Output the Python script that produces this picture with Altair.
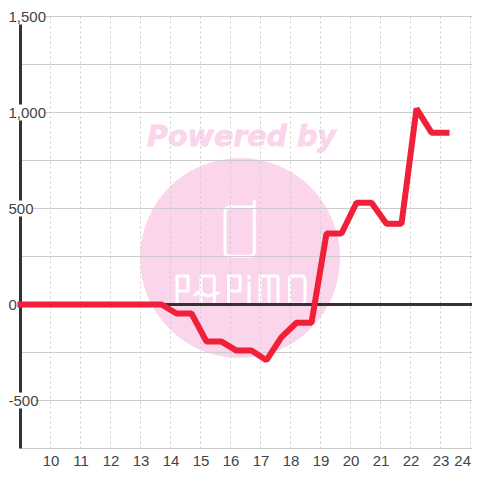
import altair as alt
import pandas as pd

hours = [9.0, 9.7, 10.2, 10.7, 11.2, 11.7, 12.2, 12.7, 13.2, 13.7, 14.2, 14.7, 15.2, 15.7, 16.2, 16.7,
         17.2, 17.7, 18.2, 18.7, 19.2, 19.7, 20.2, 20.7, 21.2, 21.7, 22.2, 22.7, 23.2]
values = [0, 0, 0, 0, 0, 0, 0, 0, 0, 0, -47, -47, -193, -193, -240, -240,
          -290, -170, -95, -95, 370, 370, 530, 530, 420, 420, 1020, 895, 895]
x_ticks = list(range(10, 25))
y_labels = [-500, 0, 500, 1000, 1500]
y_grid = [-750, -500, -250, 0, 250, 500, 750, 1000, 1250, 1500]
label_ends = [9.5, 8.9, 9.4, 9.82, 9.82]
DARK = "#333333"
TEXT = "#444444"
GRID = "#cccccc"
PINK = "#fbd5ec"
RED = "#ef2038"
FONT = "Liberation Sans"
X_MAX = 9 + 451.5 / 30

x_scale = alt.Scale(domain=[9, X_MAX], nice=False, zero=False)
y_scale = alt.Scale(domain=[-750, 1500], nice=False, zero=False)
x_axis = alt.Axis(values=x_ticks, title=None, grid=False, domain=False, ticks=False, labelFlush=5,
                  labelFont=FONT, labelFontSize=15, labelColor=TEXT, labelPadding=5, format="d")
y_axis = alt.Axis(values=y_labels, title=None, grid=False, domain=False, ticks=False, zindex=1,
                  labelFont=FONT, labelFontSize=15, labelColor=TEXT, labelAlign="left",
                  labelPadding=12.5, format=",d", labelExpr="replace(datum.label, '\u2212', '-')")

line_df = pd.DataFrame({"hour": hours, "value": values})
grid_y_df = pd.DataFrame({"v": y_grid, "a": [9] * len(y_grid), "b": [X_MAX] * len(y_grid)})
grid_x_df = pd.DataFrame({"h": x_ticks, "lo": [-750] * len(x_ticks), "hi": [1500] * len(x_ticks)})
gap_df = pd.DataFrame({"v": y_labels, "a": [8.6] * len(y_labels), "b": label_ends})
one = pd.DataFrame({"h": [9], "lo": [-750], "hi": [1500], "z": [0], "end": [X_MAX]})
dummy = pd.DataFrame({"k": [0]})

LOGO = ("M14.3 -57L14.3 -6Q14.3 -1.7 10 -1.7L-10 -1.7Q-15 -1.7 -15 -6L-15 -46Q-15 -51 -10 -51L14.3 -51"
        "M-63 46L-63 18L-52 18L-52 33L-63 33"
        "M-39 46L-39 20Q-39 18 -37 18L-28 18Q-25.7 18 -25.7 20L-25.7 46"
        "M-45 37Q-42 33 -39 35L-32 38Q-26 36 -22 35"
        "M-11.5 46L-11.5 18L0 18L0 33L-11.5 33"
        "M9 25L9 46M9 18L9 20"
        "M20 46L20 20Q20 18 22 18L36 18Q38 18 38 20L38 46M29 18L29 46"
        "M49.5 22Q49.5 18 53 18L61 18Q65 18 65 22L65 42Q65 46 61 46L53 46Q49.5 46 49.5 42Z")

circle = alt.Chart(dummy).mark_circle(size=40000, color=PINK, opacity=1).encode(
    x=alt.value(219.5), y=alt.value(241.5))
powered = alt.Chart(dummy).mark_text(
    text="Powered by", font="DejaVu Sans", fontWeight="bold", fontStyle="italic",
    fontSize=28.5, color=PINK, stroke=PINK, strokeWidth=0.8, align="center", baseline="alphabetic").encode(
    x=alt.value(221), y=alt.value(129))
logo = alt.Chart(dummy).mark_point(
    shape=LOGO, size=4, filled=False, stroke="white", strokeWidth=3, opacity=1,
    strokeCap="round", strokeJoin="round").encode(
    x=alt.value(219.5), y=alt.value(241.5))

grid_h = alt.Chart(grid_y_df).mark_rule(color=GRID, strokeWidth=1).encode(
    x=alt.X("a:Q", scale=x_scale, axis=x_axis), x2="b:Q",
    y=alt.Y("v:Q", scale=y_scale, axis=y_axis))
grid_v = alt.Chart(grid_x_df).mark_rule(color=GRID, strokeWidth=1, strokeDash=[2, 3]).encode(
    x=alt.X("h:Q", scale=x_scale, axis=x_axis),
    y=alt.Y("lo:Q", scale=y_scale, axis=y_axis), y2="hi:Q")
axis_line = alt.Chart(one).mark_rule(color=DARK, strokeWidth=3).encode(
    x=alt.X("h:Q", scale=x_scale, axis=x_axis),
    y=alt.Y("lo:Q", scale=y_scale, axis=y_axis), y2="hi:Q")
zero_line = alt.Chart(one).mark_rule(color=DARK, strokeWidth=3).encode(
    x=alt.X("h:Q", scale=x_scale, axis=x_axis), x2="end:Q",
    y=alt.Y("z:Q", scale=y_scale, axis=y_axis))
gaps = alt.Chart(gap_df).mark_rule(color="white", strokeWidth=16).encode(
    x=alt.X("a:Q", scale=x_scale, axis=x_axis), x2="b:Q",
    y=alt.Y("v:Q", scale=y_scale, axis=y_axis))
line = alt.Chart(line_df).mark_line(
    color=RED, strokeWidth=6, strokeCap="square", strokeJoin="bevel").encode(
    x=alt.X("hour:Q", scale=x_scale, axis=x_axis),
    y=alt.Y("value:Q", scale=y_scale, axis=y_axis))

chart = alt.layer(circle, powered, logo, grid_h, grid_v, zero_line, axis_line, gaps, line).properties(
    width=451.5, height=432,
    autosize=alt.AutoSizeParams(type="none"),
    padding={"left": 12.5, "top": 8.5, "right": 0, "bottom": 19.5},
    background="white",
).configure_view(stroke=None)

chart.save("out.html", embed_options={"renderer": "svg", "actions": False})
